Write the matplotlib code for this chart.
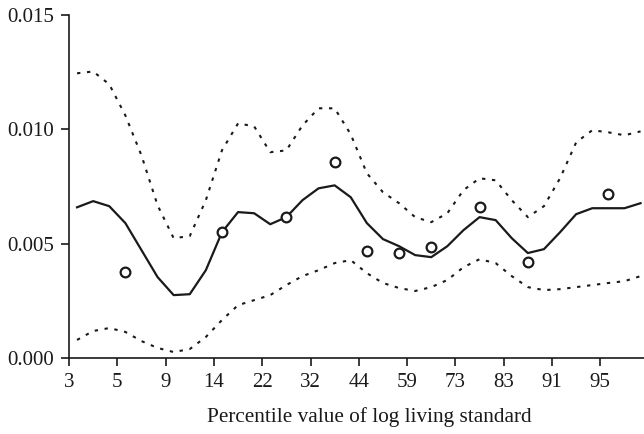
import numpy as np
import matplotlib
matplotlib.use("Agg")
import matplotlib.pyplot as plt

# tick labels on the category axis
tick_labels = ["3", "5", "9", "14", "22", "32", "44", "59", "73", "83", "91", "95"]

# estimate and 95% band (values x 1e-3)
est = [6.59, 6.86, 6.64, 5.90, 4.72, 3.54, 2.75, 2.79, 3.84, 5.50, 6.38, 6.33,
       5.85, 6.16, 6.90, 7.42, 7.55, 7.03, 5.90, 5.20, 4.89, 4.50, 4.41, 4.89,
       5.59, 6.16, 6.03, 5.24, 4.59, 4.76, 5.50, 6.29, 6.55, 6.55, 6.55, 6.77]
upper = [12.45, 12.53, 11.97, 10.61, 8.86, 6.68, 5.24, 5.33, 6.90, 9.08, 10.26, 10.13,
         9.00, 9.08, 10.17, 10.92, 10.92, 9.78, 8.08, 7.25, 6.77, 6.16, 5.94, 6.33,
         7.34, 7.86, 7.77, 6.90, 6.16, 6.64, 7.86, 9.43, 9.96, 9.87, 9.74, 9.91]
lower = [0.79, 1.18, 1.31, 1.14, 0.74, 0.44, 0.26, 0.39, 0.92, 1.66, 2.31, 2.53,
         2.75, 3.19, 3.58, 3.84, 4.15, 4.28, 3.71, 3.28, 3.06, 2.93, 3.10, 3.41,
         3.97, 4.32, 4.15, 3.58, 3.10, 2.97, 3.01, 3.10, 3.19, 3.28, 3.36, 3.58]

# circles: grid index and value (x 1e-3)
circ_idx = [3, 9, 13, 16, 18, 20, 22, 25, 28, 33]
circ_val = [3.77, 5.50, 6.16, 8.56, 4.67, 4.59, 4.85, 6.59, 4.19, 7.16]

plt.rcParams["font.family"] = ["Liberation Serif", "DejaVu Serif"]

x = 1 / 6 + np.arange(len(est)) / 3
est = np.array(est) / 1000
upper = np.array(upper) / 1000
lower = np.array(lower) / 1000
cx = 1 / 6 + np.array(circ_idx) / 3
cy = np.array(circ_val) / 1000

fig = plt.figure(figsize=(6.44, 4.34), dpi=100)
ax = fig.add_axes([69 / 644, 76 / 434, 575 / 644, 343 / 434])

ax.plot(x, est, color="#1a1a1a", lw=1.6)
ax.plot(x, upper, color="#1a1a1a", lw=1.5, ls=(0, (1.6, 3.2)))
ax.plot(x, lower, color="#1a1a1a", lw=1.5, ls=(0, (1.6, 3.2)))
ax.plot(cx, cy, "o", ms=7, mfc="white", mec="#1a1a1a", mew=1.6, ls="none")

ax.set_xlim(0, 575 / 48.3)
ax.set_ylim(0, 0.015)
ax.set_xticks(np.arange(len(tick_labels)))
ax.set_xticklabels(tick_labels)
ax.set_yticks([0, 0.005, 0.010, 0.015])
ax.set_yticklabels(["0.000", "0.005", "0.010", "0.015"])

for s in ["top", "right"]:
    ax.spines[s].set_visible(False)
for s in ["left", "bottom"]:
    ax.spines[s].set_linewidth(1.2)
    ax.spines[s].set_color("#1a1a1a")
ax.tick_params(direction="out", length=6, width=1.2, colors="#1a1a1a",
               labelsize=15, pad=5)

ax.set_xlabel("Percentile value of log living standard", fontsize=15.3,
              color="#1a1a1a")
ax.xaxis.set_label_coords(0.522, -0.142)

fig.savefig("out.png", dpi=100)
